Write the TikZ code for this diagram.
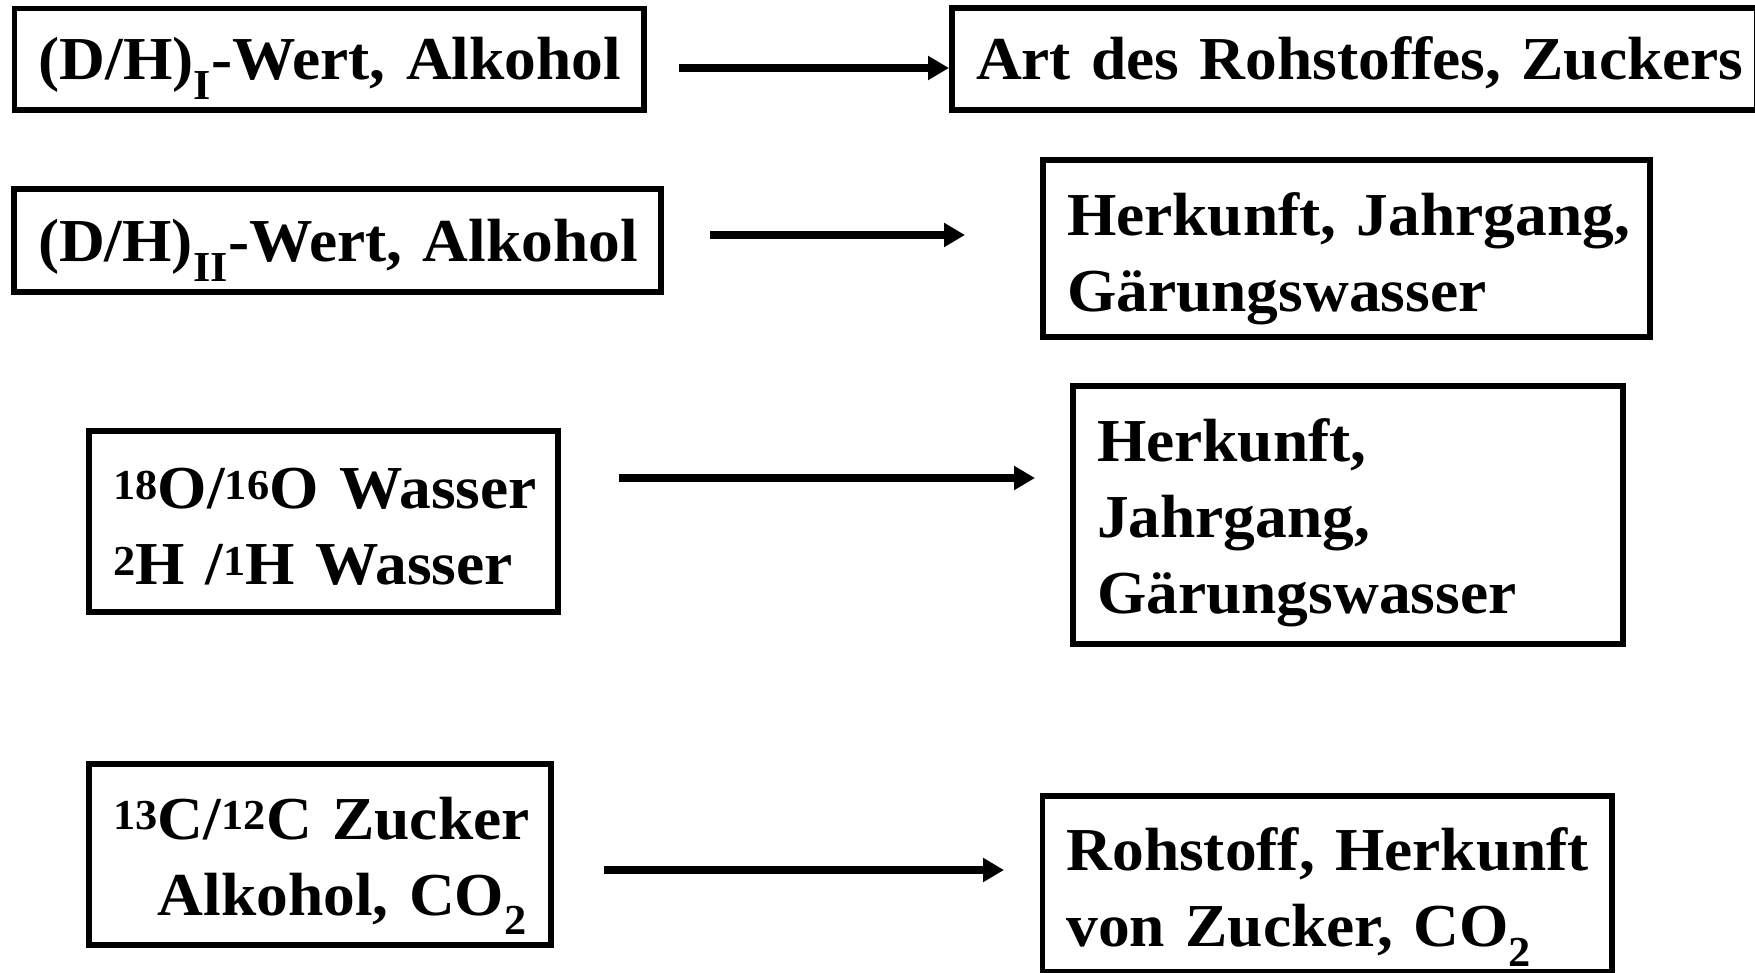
\documentclass[tikz,border=0pt]{standalone}
\usepackage{fontspec}
\setmainfont[FakeStretch=1.04]{Liberation Serif}
\usetikzlibrary{arrows.meta}
\newcommand{\topst}{\rule{0pt}{70pt}}
\newcommand{\botst}[1]{\rule[-#1pt]{0pt}{0pt}}
\begin{document}
\begin{tikzpicture}[x=1pt,y=-1pt,
  box/.style={draw, line width=5.5pt, inner sep=0pt, outer sep=0pt,
    font=\bfseries\fontsize{61}{76}\selectfont},
  arr/.style={line width=8pt, -{Triangle[length=21pt,width=23pt]}}]
\useasboundingbox (0,0) rectangle (1755,973);
% left column
\node[box, minimum width=629.5pt, minimum height=101.5pt, text width=581.5pt, align=center] (B1) at (329.25,59.25)
  {\mbox{\topst(D/H)\textsubscript{I}-Wert, Alkohol\botst{28.5}}};
\node[box, minimum width=647pt, minimum height=103pt, text width=599pt, align=center] (B2) at (337.5,240.5)
  {\mbox{\topst(D/H)\textsubscript{II}-Wert, Alkohol\botst{27}}};
\node[box, minimum width=469pt, minimum height=181pt, text width=421pt, align=left] (B5) at (323.5,521.5)
  {\mbox{\topst\textsuperscript{18}O/\textsuperscript{16}O Wasser}\\\mbox{\textsuperscript{2}H /\textsuperscript{1}H Wasser\botst{20}}};
\node[box, minimum width=462pt, minimum height=181pt, text width=414pt, align=right] (B7) at (320,854.5)
  {\mbox{\topst\textsuperscript{13}C/\textsuperscript{12}C Zucker}\\\mbox{Alkohol, CO\textsubscript{2}\botst{25}}};
% right column
\node[box, minimum width=805pt, minimum height=102pt, text width=757pt, align=center] (B3) at (1354.5,59)
  {\mbox{\topst Art des Rohstoffes, Zuckers\botst{28}}};
\node[box, minimum width=607pt, minimum height=177pt, text width=559pt, align=left] (B4) at (1346.5,248.5)
  {\mbox{\topst Herkunft, Jahrgang,}\\\mbox{Gärungswasser\botst{19}}};
\node[box, minimum width=550pt, minimum height=258pt, text width=502pt, align=left] (B6) at (1348,515)
  {\mbox{\topst Herkunft,}\\\mbox{Jahrgang,}\\\mbox{Gärungswasser\botst{26}}};
\node[box, minimum width=569.5pt, minimum height=176pt, text width=521.5pt, align=left] (B8) at (1327.25,884)
  {\mbox{\topst Rohstoff, Herkunft}\\\mbox{von Zucker, CO\textsubscript{2}\botst{21}}};
% arrows
\coordinate (a1s) at (679,68);  \coordinate (a1e) at (949,68);
\coordinate (a2s) at (710,235); \coordinate (a2e) at (965,235);
\coordinate (a3s) at (619,478); \coordinate (a3e) at (1035,478);
\coordinate (a4s) at (604,870); \coordinate (a4e) at (1004,870);
\draw[arr] (a1s) -- (a1e);
\draw[arr] (a2s) -- (a2e);
\draw[arr] (a3s) -- (a3e);
\draw[arr] (a4s) -- (a4e);
\end{tikzpicture}
\end{document}
